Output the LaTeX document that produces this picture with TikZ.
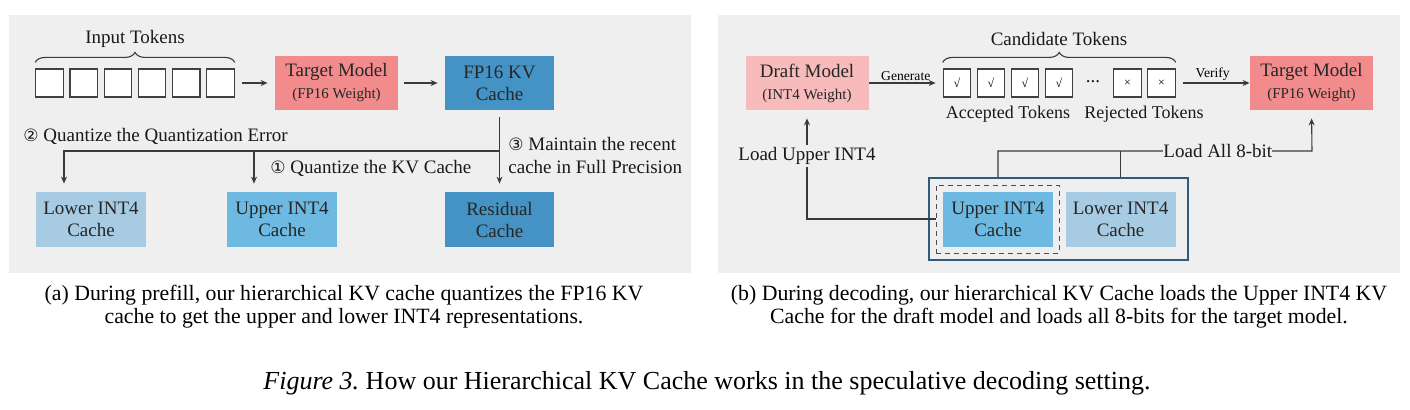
\documentclass[tikz,border=0pt]{standalone}
\usepackage{fontspec}
\setmainfont{Liberation Serif}
\newfontfamily\circfont{DejaVu Sans}
\usepackage{tikz}
\usetikzlibrary{arrows, arrows.meta}
\usetikzlibrary{positioning}
\usetikzlibrary{decorations.pathreplacing}
\usepackage{xcolor}

\definecolor{panelgray}{HTML}{EFEFEF}
\definecolor{tgtred}{HTML}{F28C8C}
\definecolor{draftpink}{HTML}{F7BBBB}
\definecolor{fpblue}{HTML}{4493C4}
\definecolor{upblue}{HTML}{6DB9E1}
\definecolor{lowblue}{HTML}{A7CBE2}
\definecolor{frameblue}{HTML}{2F5B7C}
\definecolor{linegray}{HTML}{3A3A3A}

\newcommand{\circnum}[1]{{\circfont\fontsize{8.5}{10}\selectfont #1}}
\newcommand{\subline}[1]{{\fontsize{7.5}{9}\selectfont #1}}

\begin{document}
\begin{tikzpicture}[x=0.5pt, y=-0.5pt,
  box/.style={minimum width=55pt, minimum height=27.5pt, inner sep=0pt, align=center, font=\fontsize{9.5}{11}\selectfont, text=black!85},
  model/.style={box, minimum width=61.5pt, minimum height=27pt},
  tok/.style={draw=black!75, fill=white, line width=0.6pt, minimum width=13.75pt, minimum height=14pt, inner sep=0pt, font=\fontsize{6}{6}\selectfont},
  conn/.style={draw=linegray, line width=0.55pt},
  arr/.style={conn, -{Stealth[length=3.5pt, width=3pt]}},
  lbl/.style={font=\fontsize{9.5}{11.5}\selectfont, inner sep=1pt, text=black!90},
  toklbl/.style={lbl, font=\fontsize{9}{11}\selectfont},
  smalltxt/.style={font=\fontsize{6.8}{8}\selectfont, inner sep=1pt},
  captxt/.style={font=\fontsize{10.9}{11.5}\selectfont, align=center}
]
\useasboundingbox (0,0) rectangle (1410,409);

%panels
\fill[panelgray] (9,15) rectangle (691,273);
\fill[panelgray] (718,15) rectangle (1400,273);

%prefill: tokens and models
\foreach \i in {1,...,6}
  \node[tok] (tok\i) at ({49.5+34.2*(\i-1)},83) {};
\draw[conn, decorate, decoration={brace, amplitude=5pt, raise=3pt}] (tok1.north west) -- (tok6.north east);
\node[lbl] (inTok) at (135,39) {Input Tokens};

\node[model, fill=tgtred] (tgtA) at (336.5,83) {Target Model\\\subline{(FP16 Weight)}};
\node[box, minimum width=54.5pt, minimum height=27pt, fill=fpblue] (fpkv) at (499.5,83) {FP16 KV\\Cache};

\node[box, fill=lowblue] (lowA) at (91,219.5) {Lower INT4\\Cache};
\node[box, fill=upblue] (upA) at (282,219.5) {Upper INT4\\Cache};
\node[box, minimum width=54.5pt, fill=fpblue] (resA) at (499.5,219.5) {Residual\\Cache};

%prefill: arrows
\draw[arr, shorten <=3.5pt, shorten >=3.5pt] (tok6) -- (tgtA);
\draw[arr, shorten <=3pt, shorten >=3.5pt] (tgtA) -- (fpkv);
\draw[arr, shorten <=3.5pt, shorten >=4pt] (fpkv) -- (resA);
\coordinate (splitA) at (500,151);
\coordinate (lowInA) at ([xshift=-13.5pt, yshift=4pt]lowA.north);
\coordinate (upInA) at ([xshift=-14pt, yshift=4pt]upA.north);
\draw[arr] (splitA) -| (lowInA);
\draw[arr] (upInA |- splitA) -- (upInA);

%prefill: labels
\node[lbl, anchor=west] (stepTwo) at (21,136) {\circnum{②} Quantize the Quantization Error};
\node[lbl, anchor=west] (stepOne) at (268,168) {\circnum{①} Quantize the KV Cache};
\node[lbl, anchor=west, align=left] (stepThree) at (506,155.5) {\circnum{③} Maintain the recent\\cache in Full Precision};

%decoding: models and tokens
\node[model, fill=draftpink] (draft) at (807,83) {Draft Model\\\subline{(INT4 Weight)}};
\node[model, fill=tgtred] (tgtB) at (1311.5,83) {Target Model\\\subline{(FP16 Weight)}};
\foreach \i/\x/\s in {1/957/√, 2/991/√, 3/1025/√, 4/1059/√, 5/1127.5/×, 6/1161.5/×}
  \node[tok] (cand\i) at (\x,83) {\s};
\node[lbl] (dots) at (1093,82) {...};
\draw[conn, decorate, decoration={brace, amplitude=5pt, raise=3pt}] (cand1.north west) -- (cand6.north east);
\node[lbl] (candTok) at (1059,39) {Candidate Tokens};
\node[toklbl] (accTok) at (1008,114) {Accepted Tokens};
\node[toklbl] (rejTok) at (1144,114) {Rejected Tokens};

\draw[arr, shorten >=3.5pt] (draft) -- node[above, smalltxt] {Generate} (cand1);
\draw[arr, shorten <=3.5pt] (cand6) -- node[above, smalltxt] {Verify} (tgtB);

%decoding: hierarchical cache
\node[draw=frameblue, line width=0.7pt, minimum width=129.5pt, minimum height=41pt] (hier) at (1058.5,219) {};
\node[draw=black!70, dash pattern=on 2.5pt off 2pt, line width=0.5pt, minimum width=61.5pt, minimum height=34pt] (upSel) at (997.5,219) {};
\node[box, fill=upblue] (upB) at (998,219.5) {Upper INT4\\Cache};
\node[box, fill=lowblue] (lowB) at (1120.5,219.5) {Lower INT4\\Cache};

%decoding: loads
\draw[arr, shorten >=4pt] (upSel.west) -| node[pos=0.79, lbl, fill=panelgray] {Load Upper INT4} (draft.south);
\coordinate (loadAll) at (1312,151);
\draw[arr, shorten >=4pt] (upB.north |- hier.north) |- node[pos=0.85, lbl, fill=panelgray, inner sep=0pt] {Load All 8-bit} (loadAll) -- (tgtB.south);
\draw[conn] (lowB.north |- hier.north) -- (lowB.north |- loadAll);

%captions
\node[captxt] (capA) at (344,306.5) {(a) During prefill, our hierarchical KV cache quantizes the FP16 KV\\cache to get the upper and lower INT4 representations.};
\node[captxt] (capB) at (1059,306.5) {(b) During decoding, our hierarchical KV Cache loads the Upper INT4 KV\\Cache for the draft model and loads all 8-bits for the target model.};
\node[captxt, font=\fontsize{13}{15}\selectfont] (figCap) at (707,383) {\textit{Figure 3.}\ How our Hierarchical KV Cache works in the speculative decoding setting.};

\end{tikzpicture}
\end{document}
